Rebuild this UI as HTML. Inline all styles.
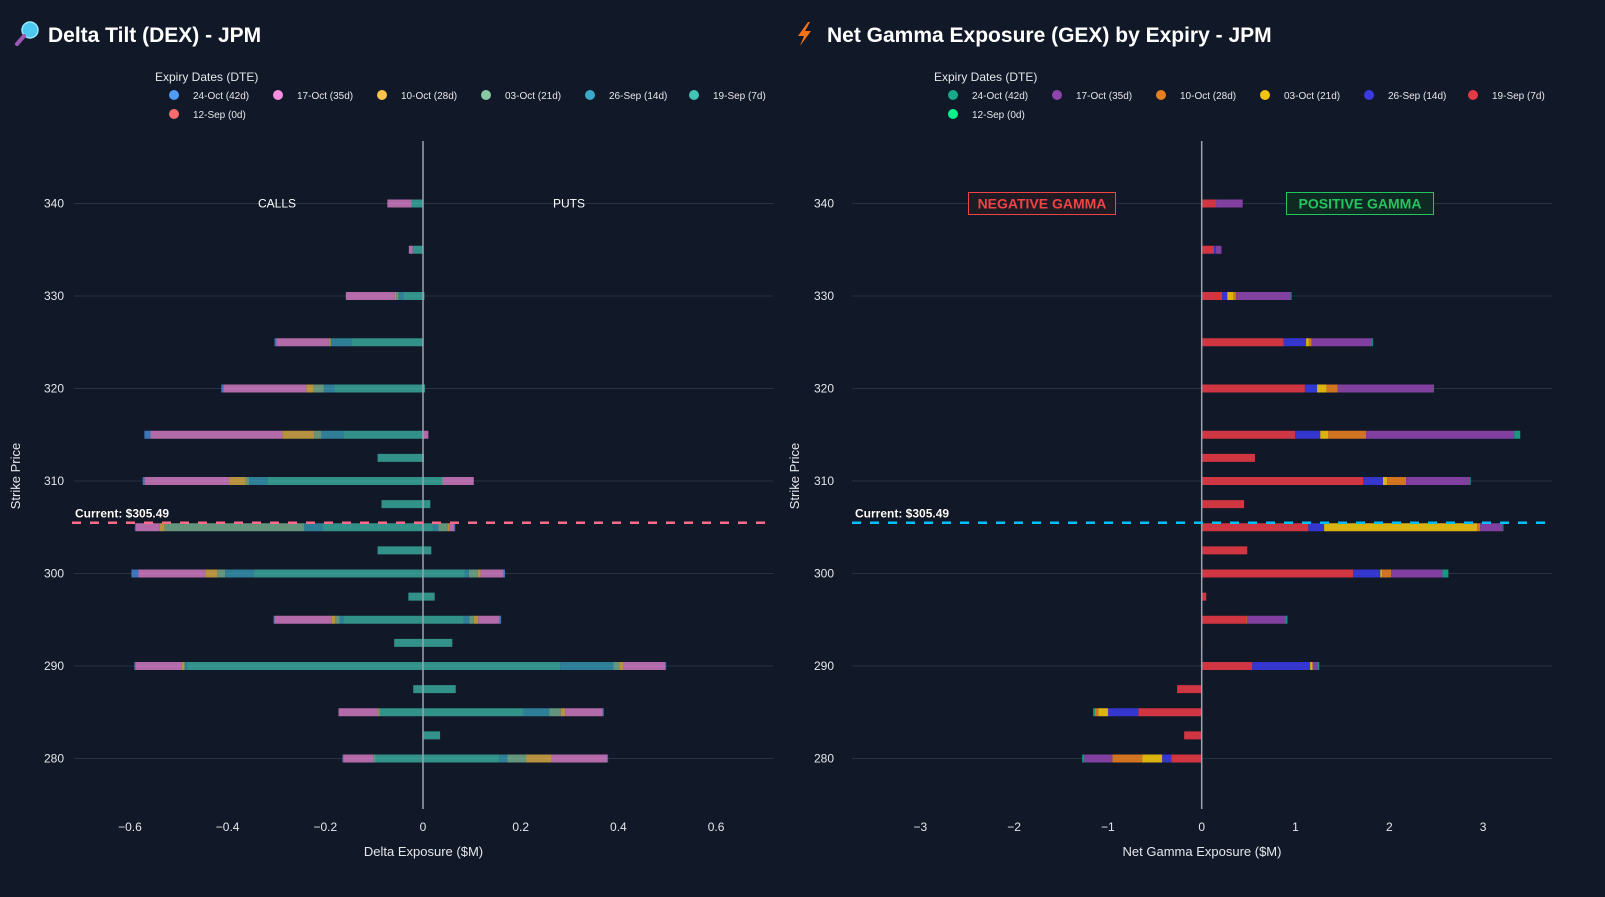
<!DOCTYPE html>
<html><head><meta charset="utf-8"><style>
html,body{margin:0;padding:0;background:#111827;}
svg{display:block;font-family:"Liberation Sans",sans-serif;}
</style></head><body>
<svg id="root" width="1605" height="897" viewBox="0 0 1605 897">
<rect x="0" y="0" width="1605" height="897" fill="#111827"/>
<g>
 <circle cx="30" cy="30" r="8" fill="#4cc9f0" stroke="#9ae6ff" stroke-width="1.5"/>
 <line x1="24" y1="36" x2="17" y2="44" stroke="#9b59b6" stroke-width="4" stroke-linecap="round"/>
 <text x="48" y="42" fill="#ffffff" font-size="21" font-weight="bold">Delta Tilt (DEX) - JPM</text>
</g>
<g>
 <polygon points="808,22 798,36 804,36 800,46 811,31 805,31 810,22" fill="#f97316"/>
 <text x="827" y="42" fill="#ffffff" font-size="21" font-weight="bold">Net Gamma Exposure (GEX) by Expiry - JPM</text>
</g>
<g id="left"></g>
<g id="right"></g>
</svg>
<script>
const strikes=[340,335,330,325,320,315,312.5,310,307.5,305,302.5,300,297.5,295,292.5,290,287.5,285,282.5,280];
const expiryLabels=["24-Oct (42d)","17-Oct (35d)","10-Oct (28d)","03-Oct (21d)","26-Sep (14d)","19-Sep (7d)","12-Sep (0d)"];
const dexTicks=[-0.6,-0.4,-0.2,0,0.2,0.4,0.6];
const gexTicks=[-3,-2,-1,0,1,2,3];
const strikeTicks=[280,290,300,310,320,330,340];
const currentPrice=305.49;
// DEX calls (negative) by expiry
const dexCalls19Sep=[-0.023,-0.021,-0.04,-0.147,-0.182,-0.163,-0.093,-0.319,-0.085,-0.206,-0.093,-0.346,-0.03,-0.163,-0.059,-0.483,-0.02,-0.088,0,-0.097];
const dexCalls26Sep=[0,0,-0.01,-0.042,-0.021,-0.045,0,-0.037,0,-0.037,0,-0.059,0,-0.008,0,-0.004,0,0,0,0];
const dexCalls03Oct=[0,0,-0.005,0,-0.021,-0.015,0,-0.007,0,-0.286,0,-0.016,0,-0.009,0,-0.002,0,-0.003,0,-0.005];
const dexCalls10Oct=[0,0,-0.003,-0.004,-0.015,-0.065,0,-0.034,0,-0.01,0,-0.025,0,-0.008,0,-0.005,0,-0.002,0,0];
const dexCalls17Oct=[-0.05,-0.008,-0.1,-0.107,-0.17,-0.27,0,-0.173,0,-0.049,0,-0.137,0,-0.116,0,-0.095,0,-0.08,0,-0.061];
const dexCalls24Oct=[0,0,0,-0.004,-0.004,-0.0125,0,-0.004,0,-0.002,0,-0.014,0,-0.002,0,-0.002,0,0,0,-0.002];
// DEX puts (positive)
const dexPuts19Sep=[0,0,0.003,0,0.004,0,0.002,0.038,0.015,0.021,0.017,0.085,0.024,0.083,0.06,0.281,0.067,0.206,0.035,0.157];
const dexPuts26Sep=[0,0,0,0,0,0,0,0,0,0.01,0,0.009,0,0.012,0,0.109,0,0.053,0,0.016];
const dexPuts03Oct=[0,0,0,0,0,0,0,0.003,0,0.02,0,0.018,0,0.009,0,0.012,0,0.023,0,0.038];
const dexPuts10Oct=[0,0,0,0,0,0,0,0,0,0.003,0,0.006,0,0.009,0,0.009,0,0.009,0,0.052];
const dexPuts17Oct=[0,0,0,0,0,0.011,0,0.063,0,0.01,0,0.047,0,0.044,0,0.085,0,0.077,0,0.114];
const dexPuts24Oct=[0,0,0,0,0,0,0,0,0,0.002,0,0.003,0,0.003,0,0.002,0,0.002,0,0.002];
// GEX by expiry
const gex19Sep=[0.153,0.131,0.218,0.873,1.1,0.995,0.568,1.72,0.452,1.137,0.486,1.616,0.049,0.475,0.005,0.539,-0.262,-0.677,-0.187,-0.325];
const gex26Sep=[0,0.02,0.055,0.24,0.13,0.269,0,0.213,0,0.168,0,0.288,0,0,0,0.617,0,-0.322,0,-0.097];
const gex03Oct=[0,0,0.065,0.03,0.1,0.086,0,0.045,0,1.63,0,0.019,0,0,0,0.026,0,-0.105,0,-0.213];
const gex10Oct=[0,0,0.03,0.03,0.12,0.404,0,0.202,0,0.034,0,0.097,0,0.007,0,0,0,-0.034,0,-0.318];
const gex17Oct=[0.284,0.06,0.58,0.644,1.015,1.578,0,0.677,0,0.239,0,0.546,0,0.41,0,0.052,0,0,0,-0.299];
const gex24Oct=[0,0,0.01,0.01,0.01,0.064,0,0.011,0,0.004,0,0.064,0,0.022,0,0.019,0,-0.019,0,-0.022];

const NS="http://www.w3.org/2000/svg";
function mk(parent,tag,attrs,text){const e=document.createElementNS(NS,tag);for(const k in attrs)e.setAttribute(k,attrs[k]);if(text!==undefined)e.textContent=text;parent.appendChild(e);return e;}
const yS=s=>758.5-(s-280)*9.25;
const xL=v=>423+v*488.4;
const xR=v=>1201.7+v*93.8;

const leftColors=["#4f9cf5","#f78fe0","#fcc44a","#88c9a1","#3aaac8","#40c4b4","#ff6b6b"];
const rightColors=["#16a98a","#8e44ad","#e67e22","#f1c40f","#3a3ae0","#e63946","#00f58a"];

function axes(g,plotX0,plotX1,xf,ticks,fmt,xTitle,labelRight,stripX,legendX,colors,legendName){
  strikeTicks.forEach(s=>{
    const l=mk(g,"line",{x1:plotX0,x2:plotX1,y1:yS(s),y2:yS(s),stroke:"#283244","stroke-width":1});
    
    
    const t=mk(g,"text",{x:labelRight,y:yS(s)+4,fill:"#e5e7eb","font-size":12,"text-anchor":"end"},String(s));
    
    
  });
  ticks.forEach(v=>{
    const t=mk(g,"text",{x:xf(v),y:831,fill:"#e5e7eb","font-size":12,"text-anchor":"middle"},fmt(v));
    
    
  });
  const xt=mk(g,"text",{x:(plotX0+plotX1)/2,y:856,fill:"#e5e7eb","font-size":13,"text-anchor":"middle"},xTitle);
  
  
  const yt=mk(g,"text",{x:0,y:0,fill:"#e5e7eb","font-size":13,"text-anchor":"middle",transform:"translate("+stripX+",476) rotate(-90)"},"Strike Price");
  
  
  const lg=mk(g,"g",{});
  
  
  const lt=mk(lg,"text",{x:legendX-19,y:81,fill:"#e5e7eb","font-size":12},"Expiry Dates (DTE)");
  
  
  expiryLabels.forEach((lab,i)=>{
    const row=i<6?0:1, col=i<6?i:0;
    const cx=legendX+col*104, cy=row?114:95;
    const e=mk(lg,"g",{});
    
    
    mk(e,"circle",{cx:cx,cy:cy,r:5,fill:colors[i]});
    mk(e,"text",{x:cx+19,y:cy+4,fill:"#e5e7eb","font-size":10},lab);
  });
}

function drawStack(g,xf,seriesList,colors,opacity,prefix){
  strikes.forEach((s,i)=>{
    let pos=0,neg=0;
    seriesList.forEach(sr=>{
      const v=sr.vals[i]; if(!v) return;
      let a,b;
      if(v>0){a=pos;b=pos+v;pos=b;}else{a=neg;b=neg+v;neg=b;}
      const x1=xf(Math.min(a,b)),x2=xf(Math.max(a,b));
      const r=mk(g,"rect",{x:x1,y:yS(s)-4,width:Math.max(x2-x1,0.8),height:8,fill:colors[sr.c],"fill-opacity":opacity});
      
      
    });
  });
}

function zeroAndCurrent(g,xz,x0,x1,color){
  const z=mk(g,"line",{x1:xz,x2:xz,y1:141,y2:809,stroke:"#9ca3af","stroke-width":1.5});
  
  
  const c=mk(g,"line",{x1:x0,x2:x1,y1:yS(currentPrice),y2:yS(currentPrice),stroke:color,"stroke-width":2.5,"stroke-dasharray":"9,9"});
  
  
  const t=mk(g,"text",{x:x0+3,y:yS(currentPrice)-5,fill:"#ffffff","font-size":12,"font-weight":"bold",stroke:"#000","stroke-width":0.6,"paint-order":"stroke"},"Current: $"+currentPrice.toFixed(2));
  
  
}

const fmtD=v=>v===0?"0":(v<0?"\u2212":"")+Math.abs(v).toFixed(1);
const fmtG=v=>v===0?"0":(v<0?"\u2212":"")+Math.abs(v);

const L=document.getElementById('left');


axes(L,74,773,xL,dexTicks,fmtD,"Delta Exposure ($M)",64,20,174,leftColors,"dex-legend");
drawStack(L,xL,[
 {n:"19sep-calls",vals:dexCalls19Sep,c:5},{n:"26sep-calls",vals:dexCalls26Sep,c:4},{n:"03oct-calls",vals:dexCalls03Oct,c:3},
 {n:"10oct-calls",vals:dexCalls10Oct,c:2},{n:"17oct-calls",vals:dexCalls17Oct,c:1},{n:"24oct-calls",vals:dexCalls24Oct,c:0},
 {n:"19sep-puts",vals:dexPuts19Sep,c:5},{n:"26sep-puts",vals:dexPuts26Sep,c:4},{n:"03oct-puts",vals:dexPuts03Oct,c:3},
 {n:"10oct-puts",vals:dexPuts10Oct,c:2},{n:"17oct-puts",vals:dexPuts17Oct,c:1},{n:"24oct-puts",vals:dexPuts24Oct,c:0}
],leftColors,0.7,"dex");
zeroAndCurrent(L,xL(0),72,773,"#ff6b8a");
const cl=mk(L,"text",{x:277,y:yS(340)+4,fill:"#ffffff","font-size":12,"text-anchor":"middle"},"CALLS");


const pl=mk(L,"text",{x:569,y:yS(340)+4,fill:"#ffffff","font-size":12,"text-anchor":"middle"},"PUTS");



const R=document.getElementById('right');


axes(R,852,1552,xR,gexTicks,fmtG,"Net Gamma Exposure ($M)",834,799,953,rightColors,"gex-legend");
drawStack(R,xR,[
 {n:"19sep",vals:gex19Sep,c:5},{n:"26sep",vals:gex26Sep,c:4},{n:"03oct",vals:gex03Oct,c:3},
 {n:"10oct",vals:gex10Oct,c:2},{n:"17oct",vals:gex17Oct,c:1},{n:"24oct",vals:gex24Oct,c:0}
],rightColors,0.9,"gex");
zeroAndCurrent(R,xR(0),852,1552,"#00bfff");
function badge(cx,label,col,bg,name){
  const g=mk(R,"g",{});
  
  
  const w=label.length*10.5;
  mk(g,"rect",{x:cx-w/2,y:yS(340)-11,width:w,height:22,fill:bg,stroke:col,"stroke-width":1});
  mk(g,"text",{x:cx,y:yS(340)+5,fill:col,"font-size":14,"font-weight":"bold","text-anchor":"middle"},label);
}
badge(1042,"NEGATIVE GAMMA","#ef4444","#1f1a24","negative-gamma-badge");
badge(1360,"POSITIVE GAMMA","#22c55e","#0f2a22","positive-gamma-badge");
</script>
</body></html>
